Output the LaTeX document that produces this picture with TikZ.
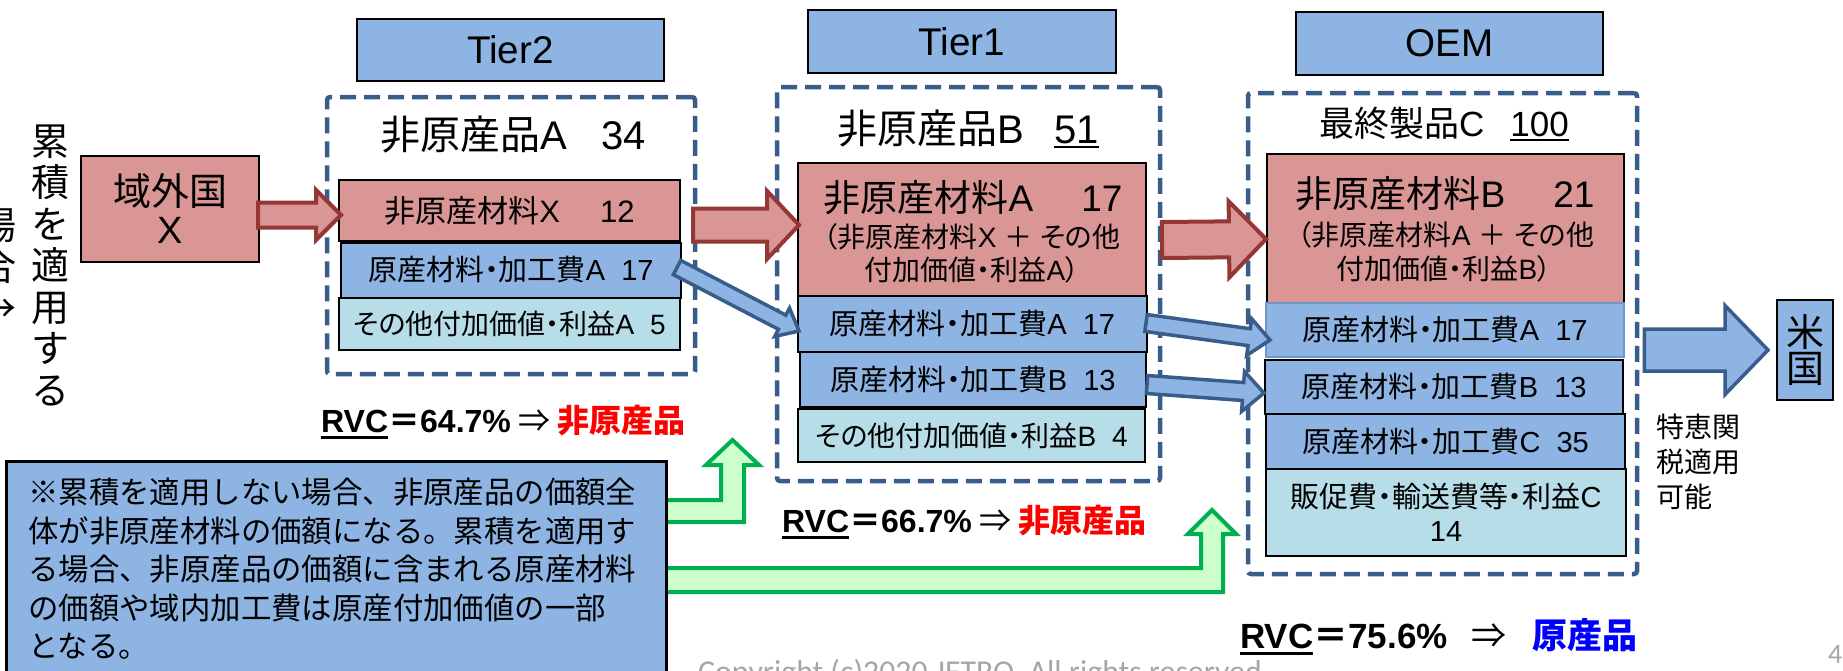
\documentclass[tikz,border=0pt]{standalone}
\usepackage{fontspec}
\setmainfont{Noto Sans CJK JP}[RawFeature=+palt]
\newfontfamily\jmono{Noto Sans CJK JP}
\newfontfamily\latf{Liberation Sans}
\newfontfamily\cpf{Carlito}
\usetikzlibrary{calc}
\definecolor{redf}{HTML}{D99694}
\definecolor{redo}{HTML}{953735}
\definecolor{bluef}{HTML}{8EB4E3}
\definecolor{blueo}{HTML}{385D8A}
\definecolor{bluelite}{HTML}{6F97CC}
\definecolor{lbf}{HTML}{B7DEE8}
\definecolor{greenf}{HTML}{CCFFCC}
\definecolor{greeno}{HTML}{00B050}
\definecolor{rvcblue}{HTML}{0000FF}
\definecolor{rvcred}{HTML}{FF0000}
\definecolor{cpgray}{HTML}{A6A6A6}
\newcommand\fsz[2]{\fontsize{#1pt}{#2pt}\selectfont}
\newcommand\Lt[1]{{\latf #1}}
\newsavebox\ulbox
\newcommand\ulx[3]{\sbox\ulbox{#1}\rlap{\rule[-#2]{\wd\ulbox}{#3}}\usebox\ulbox}
\newcommand\fatarrow[6]{%
  \coordinate (fahead) at ($(#3)!#6!(#2)$);
  \draw[#1] ($(#2)!#4!90:(#3)$) -- ($(fahead)!#4!90:(#3)$) -- ($(fahead)!#5!90:(#3)$) -- (#3) -- ($(fahead)!#5!-90:(#3)$) -- ($(fahead)!#4!-90:(#3)$) -- ($(#2)!#4!-90:(#3)$) -- cycle;}
\begin{document}
\begin{tikzpicture}[x=1pt,y=-1pt,
  bx/.style={draw=black, line width=2pt, inner sep=0pt},
  redbox/.style={bx, fill=redf},
  bluebox/.style={bx, fill=bluef},
  lbbox/.style={bx, fill=lbf},
  dashbox/.style={draw=blueo, line width=4.5pt, dash pattern=on 16pt off 8pt, rounded corners=3pt, inner sep=0pt},
  redarrow/.style={fill=redf, draw=redo, line width=4pt},
  bluearrow/.style={fill=bluef, draw=blueo, line width=3.5pt},
  greenarrow/.style={fill=greenf, draw=greeno, line width=4pt},
  lbl/.style={inner sep=0pt},
]
\useasboundingbox (0,0) rectangle (1843,670);
\clip (0,0) rectangle (1843,670);

% dashed groups
\node[dashbox, minimum width=368pt, minimum height=277pt] (d2) at (511,235.5) {};
\node[dashbox, minimum width=383pt, minimum height=394pt] (d1) at (968.5,284) {};
\node[dashbox, minimum width=389pt, minimum height=481pt] (d0) at (1442.5,333.5) {};

% tier headers
\node[bluebox, minimum width=307pt, minimum height=62pt, font=\latf\fsz{38.6}{40}] (t2) at (510.5,50) {Tier2};
\node[bluebox, minimum width=308pt, minimum height=63pt, font=\latf\fsz{38.6}{40}] (t1) at (962,41.5) {Tier1};
\node[bluebox, minimum width=307pt, minimum height=63pt, font=\latf\fsz{38.6}{40}] (t0) at (1449.5,43.5) {OEM};

% titles
\node[lbl, font=\fsz{40}{44}] (h2) at (513,135) {非原産品\Lt{A}\hspace{34pt}\Lt{34}};
\node[lbl, font=\fsz{40}{44}] (h1) at (968,129) {非原産品\Lt{B}\hspace{30pt}\Lt{\ulx{51}{4.5pt}{2pt}}};
\node[lbl, font=\fsz{35}{40}] (h0) at (1444,124) {最終製品\Lt{C}\hspace{26pt}\Lt{\ulx{100}{4pt}{2pt}}};

% left
\node[redbox, minimum width=178pt, minimum height=106pt, align=center, font=\fsz{38}{38}] (gai) at (170,209) {域外国\\\Lt{X}};
\node[lbl, align=center, font=\jmono\fsz{38}{41.5}] (vt1) at (50,265) {累\\積\\を\\適\\用\\す\\る};
\node[lbl, align=center, font=\jmono\fsz{38}{41.5}] (vt2) at (-2,265) {場\\合\\→};

% Tier2 boxes
\node[redbox, minimum width=341pt, minimum height=61pt, font=\fsz{31}{31}] (b2x) at (509.5,210.5) {非原産材料\Lt{X}\hspace{40pt}\Lt{12}};
\node[bluebox, minimum width=340pt, minimum height=55pt, font=\fsz{29}{29}] (b2a) at (511,270) {原産材料・加工費\Lt{A}\hspace{16pt}\Lt{17}};
\node[lbbox, minimum width=341pt, minimum height=52pt, font=\fsz{28}{28}] (b2o) at (509.5,324) {その他付加価値・利益\Lt{A}\hspace{16pt}\Lt{5}};

% Tier1 boxes
\node[redbox, minimum width=348pt, minimum height=133pt] (b1a) at (972,229.5) {};
\node[lbl, font=\fsz{37}{37}] (b1a1) at (973,198) {非原産材料\Lt{A}\hspace{48pt}\Lt{17}};
\node[lbl, font=\fsz{28}{28}] (b1a2) at (972,237) {（非原産材料\Lt{X }＋\Lt{ }その他};
\node[lbl, font=\fsz{28}{28}] (b1a3) at (972,270) {付加価値・利益\Lt{A}）};
\node[bluebox, minimum width=349pt, minimum height=56pt, font=\fsz{29}{29}] (b1pa) at (972.5,324) {原産材料・加工費\Lt{A}\hspace{16pt}\Lt{17}};
\node[bluebox, minimum width=346pt, minimum height=55pt, font=\fsz{29}{29}] (b1pb) at (973,379.5) {原産材料・加工費\Lt{B}\hspace{16pt}\Lt{13}};
\node[lbbox, minimum width=347pt, minimum height=53pt, font=\fsz{28}{28}] (b1o) at (971.5,435.5) {その他付加価値・利益\Lt{B}\hspace{16pt}\Lt{4}};

% OEM boxes
\node[redbox, minimum width=357pt, minimum height=149pt] (b0n) at (1445.5,228.5) {};
\node[lbl, font=\fsz{37}{37}] (b0n1) at (1445,194) {非原産材料\Lt{B}\hspace{48pt}\Lt{21}};
\node[lbl, font=\fsz{28}{28}] (b0n2) at (1446,235) {（非原産材料\Lt{A }＋\Lt{ }その他};
\node[lbl, font=\fsz{28}{28}] (b0n3) at (1444,269) {付加価値・利益\Lt{B}）};
\node[bx, fill=bluef, draw=bluelite, minimum width=358pt, minimum height=54pt, font=\fsz{29}{29}] (b0a) at (1445,330) {原産材料・加工費\Lt{A}\hspace{16pt}\Lt{17}};
\node[bluebox, minimum width=358pt, minimum height=54pt, font=\fsz{29}{29}] (b0b) at (1444,387) {原産材料・加工費\Lt{B}\hspace{16pt}\Lt{13}};
\node[bluebox, minimum width=359pt, minimum height=55pt, font=\fsz{29}{29}] (b0c) at (1445.5,441.5) {原産材料・加工費\Lt{C}\hspace{16pt}\Lt{35}};
\node[lbbox, minimum width=360pt, minimum height=87pt, align=center, font=\fsz{29}{34}] (b0o) at (1446,512.5) {販促費・輸送費等・利益\Lt{C}\\\Lt{14}};

% USA
\node[bluebox, minimum width=56pt, minimum height=100pt, align=center, font=\jmono\fsz{38}{36}] (usa) at (1805,350) {米\\国};
\node[lbl, anchor=west, align=left, font=\jmono\fsz{28}{35}] (tk) at (1656,462) {特恵関\\税適用\\可能};

% red arrows
\coordinate (ra1s) at ($(gai.east)+(-2,6)$);
\coordinate (ra1e) at ($(b2x.west)+(3,4.5)$);
\fatarrow{redarrow}{ra1s}{ra1e}{12.5pt}{25pt}{25pt}
\coordinate (ra2s) at ($(b2x.east)+(12,14.5)$);
\coordinate (ra2e) at ($(b1a.west)+(2,-4.5)$);
\fatarrow{redarrow}{ra2s}{ra2e}{16.5pt}{34pt}{32pt}
\coordinate (ra3s) at ($(b1a.east)+(15,10.5)$);
\coordinate (ra3e) at ($(b0n.west)+(0,10.5)$);
\fatarrow{redarrow}{ra3s}{ra3e}{18pt}{38pt}{37pt}

% blue arrows
\coordinate (ba1s) at ($(b2a.east)+(-5,-2.5)$);
\coordinate (ba1e) at ($(b1pa.west)+(2,7)$);
\fatarrow{bluearrow}{ba1s}{ba1e}{8pt}{16pt}{19pt}
\coordinate (ba2s) at ($(b1pa.east)+(-2,-1)$);
\coordinate (ba2e) at ($(b0a.west)+(5,10)$);
\fatarrow{bluearrow}{ba2s}{ba2e}{8.5pt}{18.5pt}{21pt}
\coordinate (ba3s) at ($(b1pb.east)+(0,5)$);
\coordinate (ba3e) at ($(b0b.west)+(0,6)$);
\fatarrow{bluearrow}{ba3s}{ba3e}{9pt}{20pt}{21pt}
\coordinate (bigs) at ($(d0.east)+(5,16.5)$);
\coordinate (bige) at ($(usa.west)+(-8,0)$);
\fatarrow{bluearrow}{bigs}{bige}{21pt}{44.5pt}{43pt}

% note box and green arrows
\node[lbl, minimum width=660pt, minimum height=250pt, anchor=north west] (noteanchor) at (5,460) {};
\coordinate (g1tip) at (732.5,440);
\draw[greenarrow] ($(noteanchor.north east)+(-6,40)$) -- (721,500) -- (721,465) -- (706,465) -- (g1tip) -- (759,465) -- (744,465) -- (744,522) -- ($(noteanchor.north east)+(-6,62)$) -- cycle;
\coordinate (g2tip) at (1212,510);
\draw[greenarrow] ($(noteanchor.north east)+(-6,108)$) -- (1201,568) -- (1201,534) -- (1188,534) -- (g2tip) -- (1236,534) -- (1223,534) -- (1223,592) -- ($(noteanchor.north east)+(-6,132)$) -- cycle;
\node[bx, fill=bluef, line width=3pt, minimum width=660pt, minimum height=250pt, anchor=north west] (note) at (5,460) {};
\node[lbl, anchor=north west, align=left, font=\jmono\fsz{30.4}{38.5}] (notetxt) at (28,478) {※累積を適用しない場合、非原産品の価額全\\体が非原産材料の価額になる。累積を適用す\\る場合、非原産品の価額に含まれる原産材料\\の価額や域内加工費は原産付加価値の一部\\となる。};

% RVC results
\node[lbl, anchor=west, font=\fsz{32}{32}] (r2) at (321,422) {\bfseries\Lt{\ulx{RVC}{6pt}{2.5pt}}＝\Lt{64.7\%} \mdseries ⇒ \bfseries\color{rvcred}非原産品};
\node[lbl, anchor=west, font=\fsz{32}{32}] (r1) at (782,522) {\bfseries\Lt{\ulx{RVC}{6pt}{2.5pt}}＝\Lt{66.7\%} \mdseries ⇒ \bfseries\color{rvcred}非原産品};
\node[lbl, anchor=west, font=\fsz{35}{35}] (r0) at (1240,637) {\bfseries\Lt{\ulx{RVC}{6pt}{2.5pt}}＝\Lt{75.6\%}\hspace{24pt}\mdseries ⇒\hspace{26pt}\bfseries\color{rvcblue}原産品};

% footer
\node[lbl, anchor=base, font=\cpf\fsz{31.8}{32}, text=cpgray] (copy) at (980,682) {Copyright (c)2020 JETRO. All rights reserved};
\node[lbl, anchor=base west, font=\cpf\fsz{28}{28}, text=cpgray] (pg) at (1828,663) {4};
\end{tikzpicture}
\end{document}
